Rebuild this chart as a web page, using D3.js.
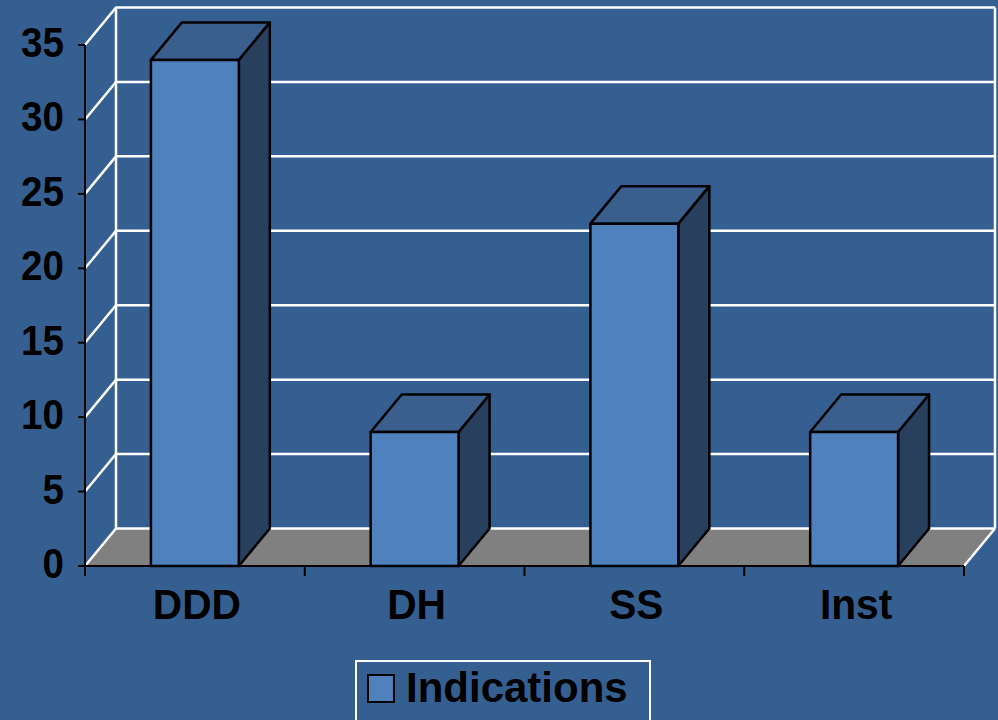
<!DOCTYPE html>
<html>
<head>
<meta charset="utf-8">
<script src="https://cdn.jsdelivr.net/npm/d3@7"></script>
<style>
  html, body { margin: 0; padding: 0; background: #365F91; overflow: hidden; }
  svg { display: block; }
  text { font-family: "Liberation Sans", Arial, sans-serif; font-weight: bold; fill: #000; }
</style>
</head>
<body>
<script>
const categories = ["DDD", "DH", "SS", "Inst"];
const values = [34, 9, 23, 9];
const yTicks = [0, 5, 10, 15, 20, 25, 30, 35];
const seriesName = "Indications";

const W = 998, H = 720;
const svg = d3.select("body").append("svg").attr("width", W).attr("height", H);
svg.append("rect").attr("width", W).attr("height", H).attr("fill", "#365F91");

// front plane geometry
const x0 = 85, x1 = 964;
const dx = 31, dy = -37.5;
const y = d3.scaleLinear().domain([0, 35]).range([566, 45]);
const x = d3.scaleBand().domain(categories).range([x0, x1]).paddingInner(0.6).paddingOuter(0.3);
const xOuter = d3.scaleBand().domain(categories).range([x0, x1]);

const line = d3.line();

// floor
svg.append("path")
  .attr("d", line([[x0, y(0)], [x1, y(0)], [x1 + dx, y(0) + dy], [x0 + dx, y(0) + dy]]) + "Z")
  .attr("fill", "#808080");

// gridlines on back wall and side wall
const grid = svg.append("g").attr("stroke", "#fff").attr("stroke-width", 2.5).attr("fill", "none");
yTicks.forEach(v => {
  grid.append("path").attr("d", line([[x0, y(v)], [x0 + dx, y(v) + dy], [x1 + dx, y(v) + dy]]));
});
// wall edges
grid.append("path").attr("d", line([[x0 + dx, y(0) + dy], [x0 + dx, y(35) + dy]]));
grid.append("path").attr("d", line([[x1 + dx, y(0) + dy], [x1 + dx, y(35) + dy]]));
grid.append("path").attr("d", line([[x1, y(0)], [x1 + dx, y(0) + dy]]));

// bars
const bars = svg.append("g").attr("stroke", "#000").attr("stroke-width", 2.5).attr("stroke-linejoin", "round");
categories.forEach((c, i) => {
  const l = x(c), r = x(c) + x.bandwidth();
  const b = y(0), t = y(values[i]);
  bars.append("path").attr("fill", "#283F5E")
    .attr("d", line([[r, b], [r, t], [r + dx, t + dy], [r + dx, b + dy]]) + "Z");
  bars.append("path").attr("fill", "#3B5F8C")
    .attr("d", line([[l, t], [r, t], [r + dx, t + dy], [l + dx, t + dy]]) + "Z");
  bars.append("rect").attr("fill", "#4F81BD")
    .attr("x", l).attr("y", t).attr("width", r - l).attr("height", b - t);
});

// axes (front)
const axisG = svg.append("g").attr("stroke", "#000").attr("stroke-width", 2).attr("fill", "none");
axisG.append("path").attr("d", line([[x0, y(0)], [x0, y(35)]]));
axisG.append("path").attr("d", line([[x0, y(0)], [x1, y(0)]]));
yTicks.forEach(v => axisG.append("path").attr("d", line([[x0 - 7, y(v)], [x0, y(v)]])));
categories.forEach(c => axisG.append("path").attr("d", line([[xOuter(c), y(0)], [xOuter(c), y(0) + 10]])));
axisG.append("path").attr("d", line([[x1, y(0)], [x1, y(0) + 10]]));

svg.append("g").selectAll("text").data(yTicks).join("text")
  .attr("transform", d => `translate(64,${y(d) + 12}) scale(0.92,1)`)
  .attr("text-anchor", "end").attr("font-size", 42).text(d => d);

svg.append("g").selectAll("text").data(categories).join("text")
  .attr("transform", d => `translate(${xOuter(d) + xOuter.bandwidth() / 2 + 2},619) scale(0.97,1)`)
  .attr("text-anchor", "middle").attr("font-size", 42).text(d => d);

// legend
const lg = svg.append("g");
lg.append("rect").attr("x", 356).attr("y", 661).attr("width", 294).attr("height", 80)
  .attr("fill", "none").attr("stroke", "#fff").attr("stroke-width", 2);
lg.append("rect").attr("x", 368).attr("y", 675).attr("width", 26).attr("height", 27)
  .attr("fill", "#4F81BD").attr("stroke", "#000").attr("stroke-width", 2);
lg.append("text").attr("x", 406).attr("y", 702).attr("font-size", 42).text(seriesName);
</script>
</body>
</html>
